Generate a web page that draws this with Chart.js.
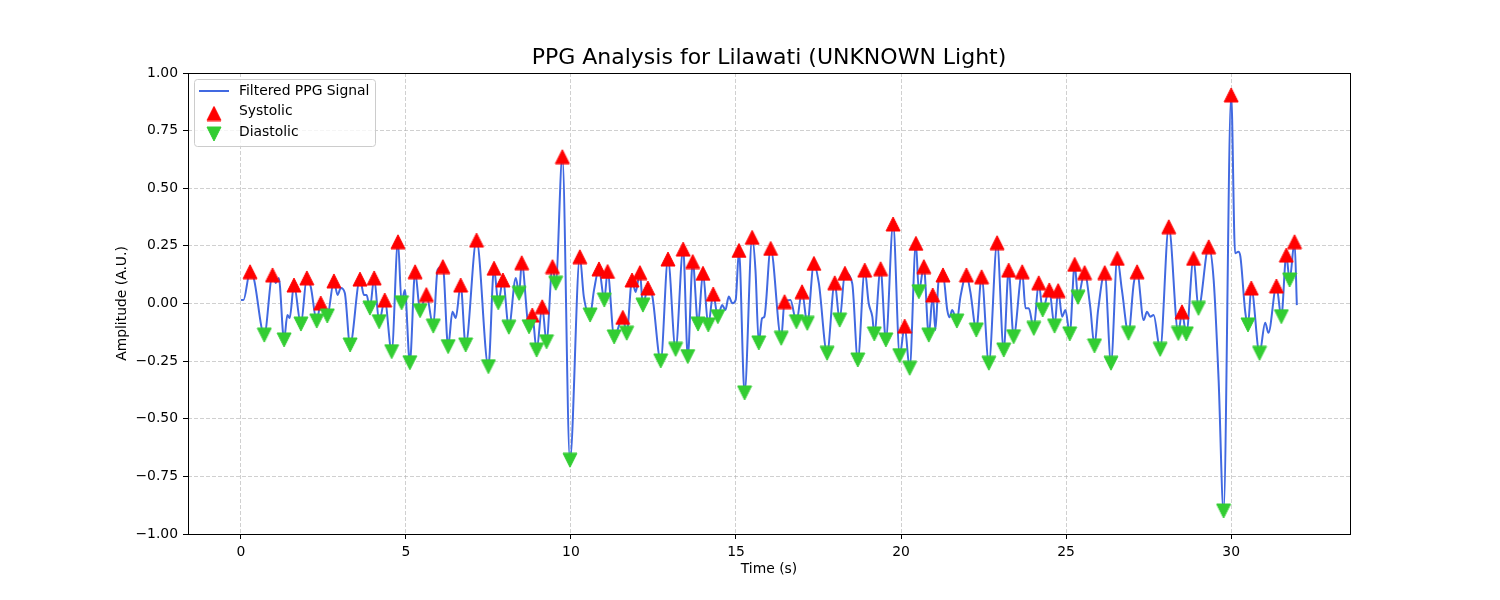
<!DOCTYPE html>
<html>
<head>
<meta charset="utf-8">
<title>PPG Analysis for Lilawati (UNKNOWN Light)</title>
<script src="https://cdn.jsdelivr.net/npm/chart.js@4.4.1/dist/chart.umd.min.js"></script>
<style>
  html, body { margin: 0; padding: 0; background: #ffffff; }
  #wrap { width: 1500px; height: 600px; }
</style>
</head>
<body>
<div id="wrap"><canvas id="ppgChart" width="1500" height="600"></canvas></div>
<script>
// Filtered signal (time in s, amplitude in A.U.)
const signalTime = [
  0, 0.08, 0.28, 0.39, 0.71, 0.96, 1.06, 1.15, 1.31, 1.41,
  1.48, 1.61, 1.82, 2.00, 2.12, 2.30, 2.42, 2.62, 2.82, 2.93,
  3.03, 3.15, 3.31, 3.61, 3.73, 3.81, 3.91, 4.04, 4.19, 4.36,
  4.57, 4.76, 4.87, 4.97, 5.12, 5.28, 5.43, 5.62, 5.83, 5.96,
  6.12, 6.28, 6.41, 6.51, 6.66, 6.81, 7.14, 7.50, 7.67, 7.80,
  7.94, 8.12, 8.33, 8.43, 8.51, 8.73, 8.83, 8.96, 9.13, 9.26,
  9.44, 9.54, 9.74, 9.97, 10.27, 10.39, 10.58, 10.70, 10.85, 11.01,
  11.11, 11.31, 11.57, 11.69, 11.85, 11.96, 12.09, 12.18, 12.33, 12.46,
  12.72, 12.94, 13.17, 13.40, 13.54, 13.69, 13.85, 14.00, 14.16, 14.31,
  14.45, 14.58, 14.68, 14.78, 14.89, 14.99, 15.09, 15.26, 15.49, 15.59,
  15.69, 15.79, 15.86, 16.05, 16.37, 16.47, 16.65, 16.83, 17.00, 17.16,
  17.36, 17.51, 17.76, 17.99, 18.14, 18.30, 18.52, 18.69, 18.90, 19.02,
  19.13, 19.19, 19.38, 19.54, 19.76, 19.96, 20.11, 20.26, 20.45, 20.54,
  20.69, 20.84, 20.96, 21.04, 21.14, 21.27, 21.40, 21.47, 21.55, 21.69,
  21.80, 21.98, 22.10, 22.28, 22.44, 22.66, 22.91, 23.11, 23.26, 23.41,
  23.67, 23.77, 23.87, 24.02, 24.17, 24.29, 24.49, 24.65, 24.76, 24.88,
  24.98, 25.11, 25.26, 25.36, 25.56, 25.73, 25.86, 25.97, 26.17, 26.36,
  26.55, 26.69, 26.89, 27.05, 27.15, 27.35, 27.45, 27.55, 27.65, 27.85,
  28.11, 28.40, 28.51, 28.64, 28.86, 29.01, 29.32, 29.47, 29.62, 29.77,
  30.00, 30.12, 30.22, 30.28, 30.43, 30.51, 30.61, 30.86, 31.03, 31.13,
  31.37, 31.52, 31.67, 31.77, 31.92, 31.99
];
const signalAmp = [
  0.015, 0.015, 0.138, 0.111, -0.137, 0.124, 0.089, 0.111, -0.158, -0.050,
  -0.063, 0.080, -0.089, 0.111, 0.072, -0.076, 0.002, -0.054, 0.098, 0.037,
  0.067, 0.046, -0.180, 0.106, 0.037, 0.037, -0.020, 0.111, -0.079, 0.015,
  -0.209, 0.268, 0.003, 0.059, -0.257, 0.138, -0.031, 0.039, -0.098, 0.145,
  0.160, -0.187, -0.036, -0.063, 0.080, -0.180, 0.275, -0.274, 0.153, 0.003,
  0.102, -0.103, 0.111, 0.044, 0.177, -0.101, -0.050, -0.202, -0.014, -0.166,
  0.160, 0.088, 0.637, -0.680, 0.203, 0.030, -0.050, 0.059, 0.150, 0.015,
  0.139, -0.145, -0.060, -0.129, 0.102, 0.050, 0.134, -0.007, 0.067, 0.037,
  -0.249, 0.193, -0.199, 0.236, -0.230, 0.182, -0.089, 0.131, -0.093, 0.041,
  -0.057, -0.007, -0.028, 0.030, 0.001, 0.015, 0.230, -0.388, 0.287, 0.145,
  -0.171, -0.064, -0.057, 0.239, -0.151, 0.008, 0.015, -0.079, 0.051, -0.086,
  0.174, 0.088, -0.216, 0.090, -0.072, 0.131, 0.088, -0.245, 0.145, 0.001,
  -0.057, -0.132, 0.151, -0.158, 0.345, -0.226, -0.098, -0.281, 0.261, 0.051,
  0.160, -0.137, 0.037, -0.115, 0.102, 0.124, -0.028, -0.060, -0.028, -0.076,
  0.030, 0.124, 0.050, -0.115, 0.116, -0.259, 0.264, -0.202, 0.145, -0.144,
  0.138, -0.021, -0.021, -0.108, 0.090, -0.028, 0.059, -0.098, 0.056, -0.057,
  -0.028, -0.132, 0.170, 0.027, 0.134, -0.014, -0.184, -0.028, 0.134, -0.259,
  0.196, 0.059, -0.129, 0.088, 0.138, -0.072, -0.036, -0.057, -0.050, -0.199,
  0.333, -0.130, -0.036, -0.132, 0.196, -0.021, 0.246, 0.102, -0.332, -0.900,
  0.905, 0.218, 0.225, 0.203, -0.041, -0.093, 0.067, -0.216, -0.083, -0.127,
  0.076, -0.057, 0.210, 0.102, 0.268, -0.007
];

// Systolic peaks
const systolicTime = [
  0.28, 0.96, 1.61, 2.00, 2.42, 2.82, 3.61, 4.04, 4.36, 4.76,
  5.28, 5.62, 6.12, 6.66, 7.14, 7.67, 7.94, 8.51, 8.83, 9.13,
  9.44, 9.74, 10.27, 10.85, 11.11, 11.57, 11.85, 12.09, 12.33, 12.94,
  13.40, 13.69, 14.00, 14.31, 15.09, 15.49, 16.05, 16.47, 17.00, 17.36,
  17.99, 18.30, 18.90, 19.38, 19.76, 20.11, 20.45, 20.69, 20.96, 21.27,
  21.98, 22.44, 22.91, 23.26, 23.67, 24.17, 24.49, 24.76, 25.26, 25.56,
  26.17, 26.55, 27.15, 28.11, 28.51, 28.86, 29.32, 30.00, 30.61, 31.37,
  31.67, 31.92
];
const systolicAmp = [
  0.138, 0.124, 0.080, 0.111, 0.002, 0.098, 0.106, 0.111, 0.015, 0.268,
  0.138, 0.039, 0.160, 0.080, 0.275, 0.153, 0.102, 0.177, -0.050, -0.014,
  0.160, 0.637, 0.203, 0.150, 0.139, -0.060, 0.102, 0.134, 0.067, 0.193,
  0.236, 0.182, 0.131, 0.041, 0.230, 0.287, 0.239, 0.008, 0.051, 0.174,
  0.090, 0.131, 0.145, 0.151, 0.345, -0.098, 0.261, 0.160, 0.037, 0.124,
  0.124, 0.116, 0.264, 0.145, 0.138, 0.090, 0.059, 0.056, 0.170, 0.134,
  0.134, 0.196, 0.138, 0.333, -0.036, 0.196, 0.246, 0.905, 0.067, 0.076,
  0.210, 0.268
];

// Diastolic troughs
const diastolicTime = [
  0.71, 1.31, 1.82, 2.30, 2.62, 3.31, 3.91, 4.19, 4.57, 4.87,
  5.12, 5.43, 5.83, 6.28, 6.81, 7.50, 7.80, 8.12, 8.43, 8.73,
  8.96, 9.26, 9.54, 9.97, 10.58, 11.01, 11.31, 11.69, 12.18, 12.72,
  13.17, 13.54, 13.85, 14.16, 14.45, 15.26, 15.69, 16.37, 16.83, 17.16,
  17.76, 18.14, 18.69, 19.19, 19.54, 19.96, 20.26, 20.54, 20.84, 21.69,
  22.28, 22.66, 23.11, 23.41, 24.02, 24.29, 24.65, 25.11, 25.36, 25.86,
  26.36, 26.89, 27.85, 28.40, 28.64, 29.01, 29.77, 30.51, 30.86, 31.52,
  31.77
];
const diastolicAmp = [
  -0.137, -0.158, -0.089, -0.076, -0.054, -0.180, -0.020, -0.079, -0.209, 0.003,
  -0.257, -0.031, -0.098, -0.187, -0.180, -0.274, 0.003, -0.103, 0.044, -0.101,
  -0.202, -0.166, 0.088, -0.680, -0.050, 0.015, -0.145, -0.129, -0.007, -0.249,
  -0.199, -0.230, -0.089, -0.093, -0.057, -0.388, -0.171, -0.151, -0.079, -0.086,
  -0.216, -0.072, -0.245, -0.132, -0.158, -0.226, -0.281, 0.051, -0.137, -0.076,
  -0.115, -0.259, -0.202, -0.144, -0.108, -0.028, -0.098, -0.132, 0.027, -0.184,
  -0.259, -0.129, -0.199, -0.130, -0.132, -0.021, -0.900, -0.093, -0.216, -0.057,
  0.102
];

// Axis ticks
const xTicks = [0, 5, 10, 15, 20, 25, 30];
const yTicks = [-1.00, -0.75, -0.50, -0.25, 0.00, 0.25, 0.50, 0.75, 1.00];

const TITLE = 'PPG Analysis for Lilawati (UNKNOWN Light)';
const FONT = '"DejaVu Sans", sans-serif';

const colors = {
  line: '#4169E1',
  systolic: '#ff0000',
  diastolic: '#32CD32',
  grid: 'rgba(176, 176, 176, 0.6)'
};

// matplotlib-like triangle markers (bbox centred) as small canvases
function makeTriangle(color, up) {
  const c = document.createElement('canvas');
  c.width = 16;
  c.height = 16;
  const g = c.getContext('2d');
  g.beginPath();
  if (up) {
    g.moveTo(8, 1); g.lineTo(15, 15); g.lineTo(1, 15);
  } else {
    g.moveTo(1, 1); g.lineTo(15, 1); g.lineTo(8, 15);
  }
  g.closePath();
  g.fillStyle = color;
  g.strokeStyle = color;
  g.lineWidth = 1;
  g.fill();
  g.stroke();
  return c;
}
const triUp = makeTriangle(colors.systolic, true);
const triDown = makeTriangle(colors.diastolic, false);

const toPoints = (xs, ys) => xs.map((x, i) => ({ x, y: ys[i] }));

// Frame, title and legend drawn like matplotlib
const decorations = {
  id: 'decorations',
  afterDraw(chart) {
    const { ctx, chartArea: a } = chart;
    ctx.save();

    ctx.strokeStyle = '#000';
    ctx.lineWidth = 1;
    ctx.strokeRect(Math.round(a.left) + 0.5, Math.round(a.top) + 0.5,
      Math.round(a.right - a.left), Math.round(a.bottom - a.top));

    ctx.fillStyle = '#000';
    ctx.font = '22px ' + FONT;
    ctx.textAlign = 'center';
    ctx.textBaseline = 'alphabetic';
    ctx.fillText(TITLE, (a.left + a.right) / 2, 64);

    // legend box
    const bx = a.left + 6.5, by = a.top + 6.5, bw = 181, bh = 67;
    ctx.beginPath();
    ctx.roundRect(bx, by, bw, bh, 3);
    ctx.fillStyle = 'rgba(255, 255, 255, 0.8)';
    ctx.fill();
    ctx.strokeStyle = '#cccccc';
    ctx.stroke();

    ctx.beginPath();
    ctx.moveTo(a.left + 11, a.top + 18);
    ctx.lineTo(a.left + 41, a.top + 18);
    ctx.strokeStyle = colors.line;
    ctx.lineWidth = 2;
    ctx.stroke();

    ctx.drawImage(triUp, a.left + 26 - 8, a.top + 40.5 - 8);
    ctx.drawImage(triDown, a.left + 26 - 8, a.top + 61 - 8);

    ctx.fillStyle = '#000';
    ctx.font = '13.9px ' + FONT;
    ctx.textAlign = 'left';
    ctx.textBaseline = 'middle';
    ctx.fillText('Filtered PPG Signal', a.left + 51, a.top + 18);
    ctx.fillText('Systolic', a.left + 51, a.top + 38.5);
    ctx.fillText('Diastolic', a.left + 51, a.top + 59);

    ctx.restore();
  }
};

const tickFont = { family: FONT, size: 13.9 };

new Chart(document.getElementById('ppgChart'), {
  type: 'scatter',
  data: {
    datasets: [
      {
        label: 'Filtered PPG Signal',
        data: toPoints(signalTime, signalAmp),
        showLine: true,
        borderColor: colors.line,
        borderWidth: 2,
        pointRadius: 0,
        cubicInterpolationMode: 'monotone',
        fill: false,
        order: 3
      },
      {
        label: 'Systolic',
        data: toPoints(systolicTime, systolicAmp),
        pointStyle: triUp,
        pointRadius: 8,
        order: 2
      },
      {
        label: 'Diastolic',
        data: toPoints(diastolicTime, diastolicAmp),
        pointStyle: triDown,
        pointRadius: 8,
        order: 1
      }
    ]
  },
  options: {
    responsive: false,
    animation: false,
    devicePixelRatio: 1,
    layout: { padding: { left: 100, right: 150, top: 73, bottom: 0 } },
    plugins: {
      legend: { display: false },
      title: { display: false },
      tooltip: { enabled: false }
    },
    scales: {
      x: {
        type: 'linear',
        min: -1.6,
        max: 33.6,
        afterBuildTicks: s => { s.ticks = xTicks.map(v => ({ value: v })); },
        afterFit: s => { s.height = 66; },
        ticks: {
          autoSkip: false,
          maxRotation: 0,
          padding: 5,
          color: '#000',
          font: tickFont,
          callback: v => String(v)
        },
        grid: {
          color: colors.grid,
          lineWidth: 1,
          drawTicks: true,
          tickLength: 5,
          tickColor: '#000',
          tickWidth: 1
        },
        border: { display: false, dash: [4, 2] },
        title: {
          display: true,
          text: 'Time (s)',
          color: '#000',
          font: tickFont,
          padding: { top: 0, bottom: 22 }
        }
      },
      y: {
        type: 'linear',
        min: -1,
        max: 1,
        afterBuildTicks: s => { s.ticks = yTicks.map(v => ({ value: v })); },
        afterFit: s => { s.width = 88; },
        ticks: {
          autoSkip: false,
          padding: 5,
          color: '#000',
          font: tickFont,
          callback: v => v.toFixed(2).replace('-', '\u2212')
        },
        grid: {
          color: colors.grid,
          lineWidth: 1,
          drawTicks: true,
          tickLength: 5,
          tickColor: '#000',
          tickWidth: 1
        },
        border: { display: false, dash: [4, 2] },
        title: {
          display: true,
          text: 'Amplitude (A.U.)',
          color: '#000',
          font: tickFont,
          padding: { top: 14, bottom: 0 }
        }
      }
    }
  },
  plugins: [decorations]
});
</script>
</body>
</html>
